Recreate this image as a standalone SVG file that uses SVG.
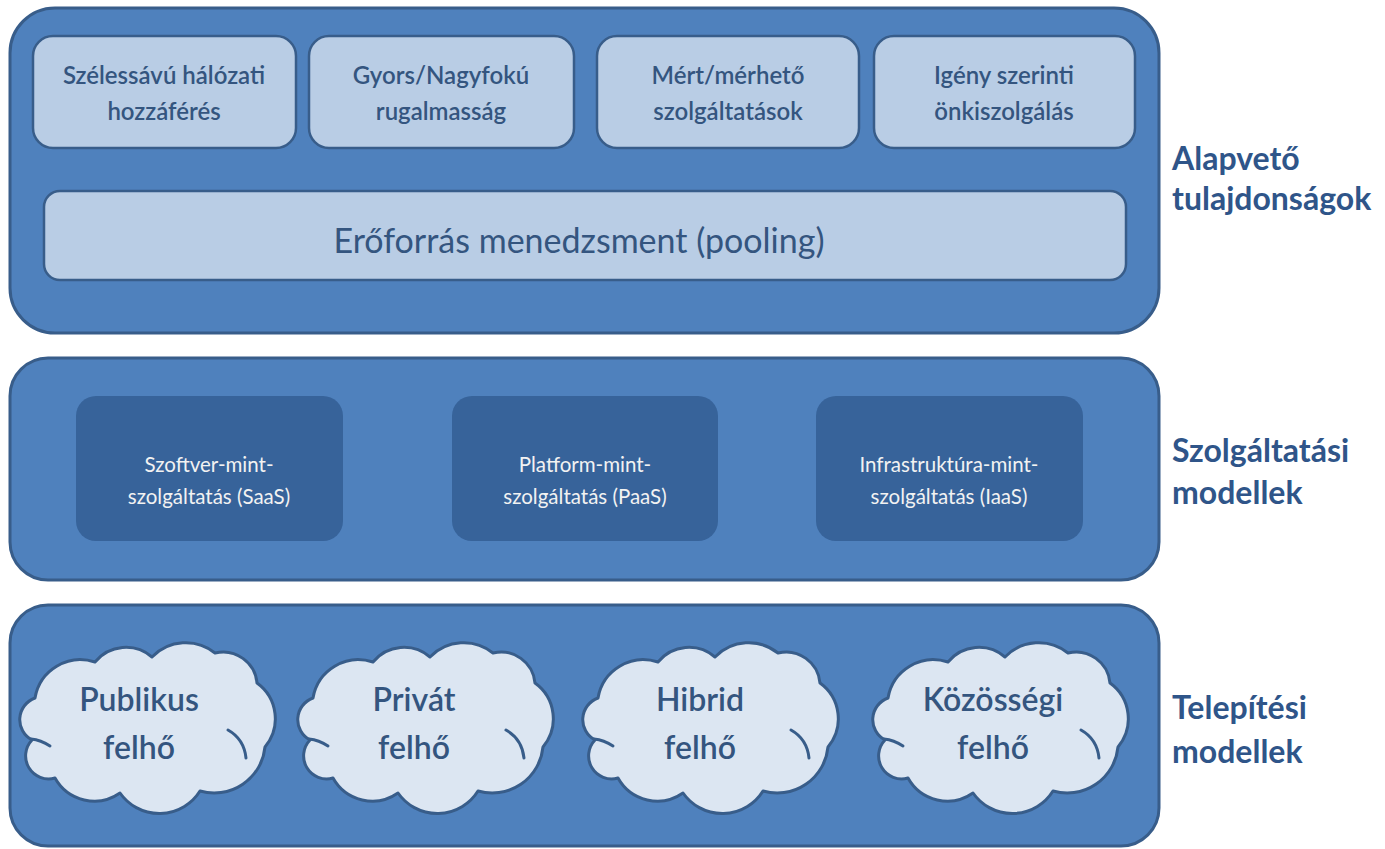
<svg xmlns="http://www.w3.org/2000/svg" width="1385" height="849" viewBox="0 0 1385 849">
<style>
  .panel{fill:#4f81bd;stroke:#385d8a;stroke-width:3}
  .lite{fill:#b9cde5;stroke:#385d8a;stroke-width:2.5}
  .dark{fill:#37639a;stroke:none}
  .cloud{fill:#dce6f2;stroke:#385d8a;stroke-width:3;stroke-linejoin:round}
  .crease{fill:none;stroke:#385d8a;stroke-width:3;stroke-linecap:round}
  text{font-family:Lato,"Open Sans","Liberation Sans",sans-serif;text-anchor:middle}
  .t1{font-size:24px;fill:#34557f;font-weight:600}
  .t2{font-size:34px;fill:#34557f}
  .t3{font-size:20.5px;fill:#f2f2f2}
  .t4{font-size:32px;fill:#34557f;font-weight:600}
  .lab{font-size:32px;fill:#2f5589;font-weight:bold;text-anchor:start}
</style>
<defs>
  <g id="cloudShape">
    <path class="cloud" d="M12,97 A23,23 0 0 1 15,55 A46,46 0 0 1 75,19 A40,40 0 0 1 132,14 A47,47 0 0 1 195,10 A34,34 0 0 1 237,40 A44,44 0 0 1 245,104 A51,51 0 0 1 180,148 A48,48 0 0 1 100,150 A45,45 0 0 1 35,135 A23,23 0 0 1 12,97 Z"/>
    <path class="crease" d="M11,96 Q21,97 30,103"/>
    <path class="crease" d="M208,87 Q224,96 226,115"/>
  </g>
</defs>

<g id="panel-alapveto">
  <rect class="panel" x="10" y="8" width="1149" height="325" rx="45"/>
</g>
<g id="panel-szolgaltatasi">
  <rect class="panel" x="10" y="358" width="1149" height="222" rx="38"/>
</g>
<g id="panel-telepitesi">
  <rect class="panel" x="10" y="605" width="1149" height="241" rx="38"/>
</g>

<g id="node-szelessavu">
  <rect class="lite" x="33" y="36" width="263" height="112" rx="20"/>
  <text class="t1" x="164" y="84">Szélessávú hálózati</text>
  <text class="t1" x="164" y="120">hozzáférés</text>
</g>
<g id="node-gyors">
  <rect class="lite" x="309" y="36" width="265" height="112" rx="20"/>
  <text class="t1" x="441" y="84">Gyors/Nagyfokú</text>
  <text class="t1" x="441" y="120">rugalmasság</text>
</g>
<g id="node-mert">
  <rect class="lite" x="597" y="36" width="262" height="112" rx="20"/>
  <text class="t1" x="728" y="84">Mért/mérhető</text>
  <text class="t1" x="728" y="120">szolgáltatások</text>
</g>
<g id="node-igeny">
  <rect class="lite" x="874" y="36" width="261" height="112" rx="20"/>
  <text class="t1" x="1004" y="84">Igény szerinti</text>
  <text class="t1" x="1004" y="120">önkiszolgálás</text>
</g>
<g id="node-pooling">
  <rect class="lite" x="44" y="191" width="1082" height="89" rx="16"/>
  <text class="t2" x="579" y="253">Erőforrás menedzsment (pooling)</text>
</g>

<g id="node-saas">
  <rect class="dark" x="76" y="396" width="267" height="145" rx="20"/>
  <text class="t3" x="209" y="472">Szoftver-mint-</text>
  <text class="t3" x="209" y="504">szolgáltatás (SaaS)</text>
</g>
<g id="node-paas">
  <rect class="dark" x="452" y="396" width="266" height="145" rx="20"/>
  <text class="t3" x="585" y="472">Platform-mint-</text>
  <text class="t3" x="585" y="504">szolgáltatás (PaaS)</text>
</g>
<g id="node-iaas">
  <rect class="dark" x="816" y="396" width="267" height="145" rx="20"/>
  <text class="t3" x="949" y="472">Infrastruktúra-mint-</text>
  <text class="t3" x="949" y="504">szolgáltatás (IaaS)</text>
</g>

<g id="node-publikus">
  <use href="#cloudShape" transform="translate(20,643)"/>
  <text class="t4" x="139" y="711">Publikus</text>
  <text class="t4" x="139" y="759">felhő</text>
</g>
<g id="node-privat">
  <use href="#cloudShape" transform="translate(298,643)"/>
  <text class="t4" x="414" y="711">Privát</text>
  <text class="t4" x="414" y="759">felhő</text>
</g>
<g id="node-hibrid">
  <use href="#cloudShape" transform="translate(583,643)"/>
  <text class="t4" x="700" y="711">Hibrid</text>
  <text class="t4" x="700" y="759">felhő</text>
</g>
<g id="node-kozossegi">
  <use href="#cloudShape" transform="translate(873,643)"/>
  <text class="t4" x="993" y="711">Közösségi</text>
  <text class="t4" x="993" y="759">felhő</text>
</g>

<g id="labels">
  <text class="lab" x="1172" y="170">Alapvető</text>
  <text class="lab" x="1172" y="210">tulajdonságok</text>
  <text class="lab" x="1172" y="462">Szolgáltatási</text>
  <text class="lab" x="1172" y="504">modellek</text>
  <text class="lab" x="1172" y="719">Telepítési</text>
  <text class="lab" x="1172" y="763">modellek</text>
</g>

<g id="connectors"></g>
</svg>
